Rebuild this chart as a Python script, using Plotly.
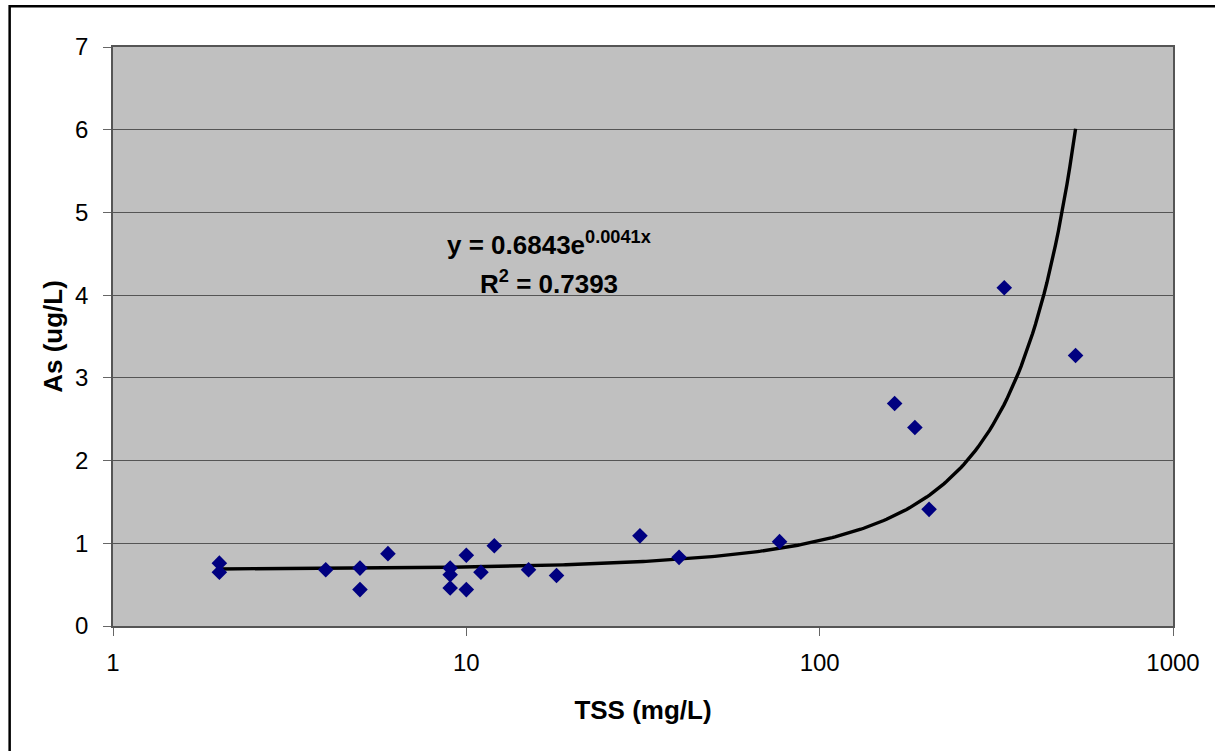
import numpy as np
import plotly.graph_objects as go

# Data
tss = [2, 2, 4, 5, 5, 6, 9, 9, 9, 10, 10, 11, 12, 15, 18, 31, 40, 77, 163, 186, 204, 333, 530]
as_ug = [0.76, 0.65, 0.68, 0.70, 0.44, 0.875, 0.70, 0.62, 0.46, 0.855, 0.44, 0.65, 0.97,
         0.68, 0.61, 1.09, 0.83, 1.02, 2.69, 2.40, 1.41, 4.09, 3.27]

# Exponential trendline parameters (as shown on the chart)
fit_a = 0.6843
fit_b = 0.0041
x_ticks = [1, 10, 100, 1000]
y_ticks = [0, 1, 2, 3, 4, 5, 6, 7]

trend_x = np.logspace(np.log10(min(tss)), np.log10(max(tss)), 300)
trend_y = fit_a * np.exp(fit_b * trend_x)

FONT = "Liberation Sans, Arial, sans-serif"

fig = go.Figure()
fig.add_trace(go.Scatter(x=trend_x, y=trend_y, mode="lines",
                         line=dict(color="black", width=3.4), hoverinfo="skip",
                         showlegend=False))
fig.add_trace(go.Scatter(x=tss, y=as_ug, mode="markers",
                         marker=dict(symbol="diamond", size=12, color="#000080",
                                     line=dict(width=0)),
                         showlegend=False))

fig.update_layout(
    width=1215, height=751,
    margin=dict(l=113, r=42, t=47, b=125),
    paper_bgcolor="white", plot_bgcolor="#C0C0C0",
    font=dict(family=FONT, color="black", size=24),
    xaxis=dict(type="log", range=[0, 3], tickvals=x_ticks,
               ticktext=[str(v) for v in x_ticks],
               showgrid=False, zeroline=False,
               showline=True, linecolor="#555555", linewidth=1.5, mirror=True,
               ticks="outside", ticklen=8, tickcolor="#666666", tickwidth=1,
               ticklabelstandoff=6,
               title=dict(text="<b>TSS (mg/L)</b>", font=dict(size=26), standoff=26)),
    yaxis=dict(range=[0, 7], tickvals=y_ticks,
               showgrid=True, gridcolor="#555555", gridwidth=1.2, zeroline=False,
               showline=True, linecolor="#555555", linewidth=1.5, mirror=True,
               ticks="outside", ticklen=8, tickcolor="#666666", tickwidth=1,
               ticklabelstandoff=10,
               title=dict(text="<b>As (ug/L)</b>", font=dict(size=26), standoff=5)),
    annotations=[
        dict(x=1.234, y=4.63, xref="x", yref="y", showarrow=False,
             text="<b>y = 0.6843e<sup>0.0041x</sup></b>", font=dict(size=26)),
        dict(x=1.234, y=4.15, xref="x", yref="y", showarrow=False,
             text="<b>R<sup>2</sup> = 0.7393</b>", font=dict(size=26)),
    ],
    shapes=[dict(type="rect", xref="paper", yref="paper",
                 x0=-0.0975, x1=1.2, y0=-0.5, y1=1.0705,
                 line=dict(color="black", width=2.5), layer="above")],
)

fig.write_html("out.html", config={"displayModeBar": False},
               post_script="document.body.style.margin='0';")
